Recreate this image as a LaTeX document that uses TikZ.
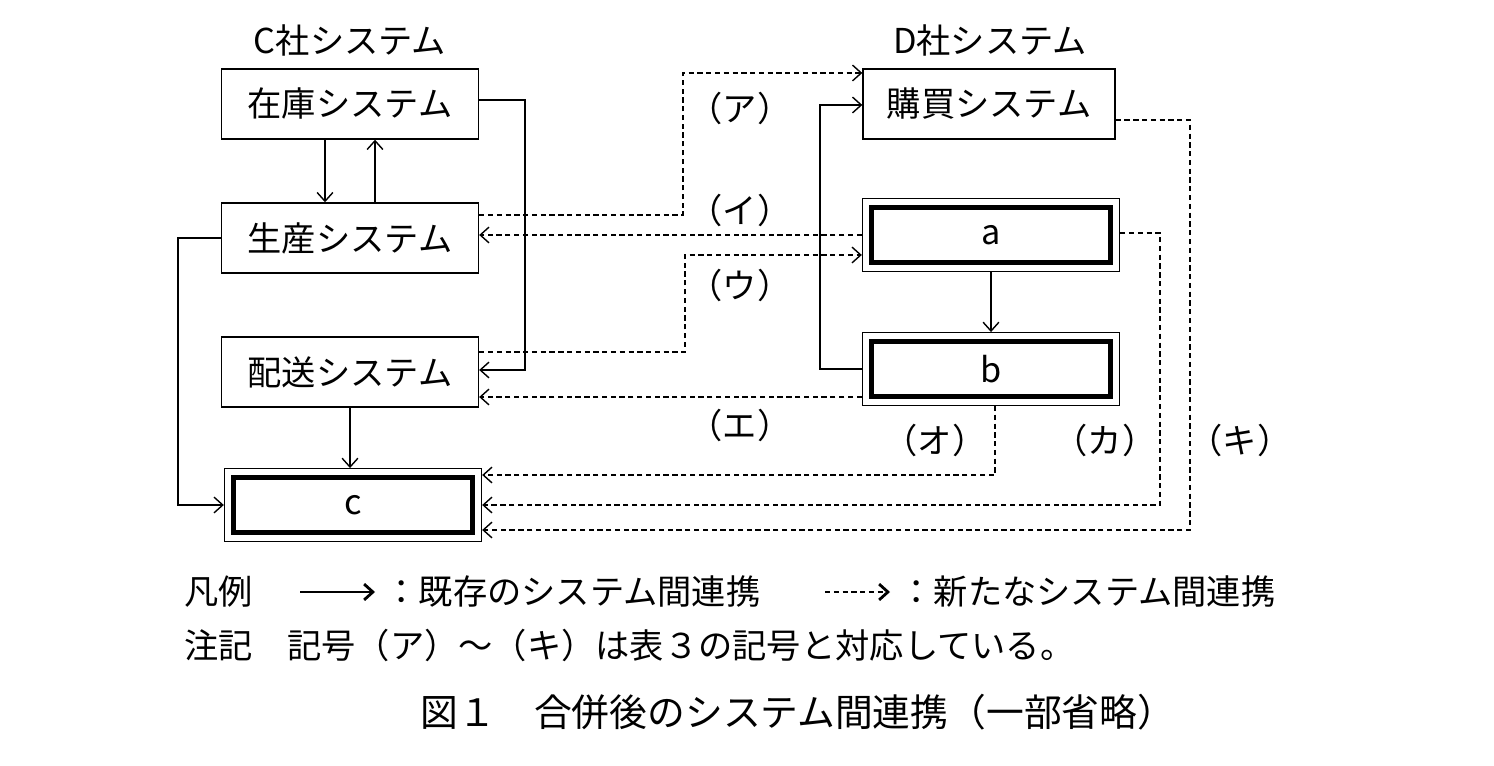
\documentclass[tikz,border=0pt]{standalone}
\usepackage{fontspec}
\setmainfont{Noto Sans CJK JP}
\usetikzlibrary{arrows.meta}

\begin{document}
\begin{tikzpicture}[x=0.02cm,y=-0.02cm,>={Straight Barb[length=5pt,width=9pt]},thick,
  font=\fontsize{19.5}{23}\selectfont,
  sys node/.style={draw,minimum width=5.14cm,minimum height=1.4cm},
  dbl node/.style={draw,minimum width=5.14cm,minimum height=1.45cm,
    path picture={\draw[line width=2.6pt] ([shift={(5pt,-5pt)}]path picture bounding box.north west)
      rectangle ([shift={(-5pt,5pt)}]path picture bounding box.south east);}},
  new link/.style={->,dash pattern=on 3pt off 2pt},
  old link/.style={->}]
  \useasboundingbox (0,0) rectangle (1494,766);
  \node at (350,40) {C社システム};
  \node at (990,40) {D社システム};
  \node[sys node] (zaiko) at (350,104) {在庫システム};
  \node[sys node] (seisan) at (350,238) {生産システム};
  \node[sys node] (haiso) at (350,372) {配送システム};
  \node[dbl node] (c) at (353,505) {c};
  \node[sys node,minimum width=5.04cm] (kobai) at (989,104) {購買システム};
  \node[dbl node] (a) at (991,235) {a};
  \node[dbl node] (b) at (991,369) {b};

  % existing links
  \draw[old link] (zaiko.south -| 325,0) -- (seisan.north -| 325,0);
  \draw[old link] (seisan.north -| 375,0) -- (zaiko.south -| 375,0);
  \draw[old link] (zaiko.east |- 0,100) -| (525,370) -- (haiso.east |- 0,370);
  \draw[old link] (seisan.west) -| (178,505) -- (c.west);
  \draw[old link] (haiso.south) -- (haiso.south |- c.north);
  \draw[old link] (a.south) -- (b.north);
  \draw[old link] (b.west) -| (820,105) -- (kobai.west |- 0,105);

  % new links
  \draw[new link] (seisan.east |- 0,215) -| (683,73) -- (kobai.west |- 0,73);
  \draw[new link] (a.west |- 0,235) -- (seisan.east |- 0,235);
  \draw[new link] (haiso.east |- 0,352) -| (685,255) -- (a.west |- 0,255);
  \draw[new link] (b.west |- 0,397) -- (haiso.east |- 0,397);
  \draw[new link] (b.south -| 995,0) -- (995,475) -- (c.east |- 0,475);
  \draw[new link] (a.east |- 0,233) -| (1160,505) -- (c.east |- 0,505);
  \draw[new link] (kobai.east |- 0,120) -| (1190,530) -- (c.east |- 0,530);

  \node at (740,108) {（ア）};
  \node at (740,210) {（イ）};
  \node at (740,285) {（ウ）};
  \node at (740,425) {（エ）};
  \node at (935,440) {（オ）};
  \node at (1105,440) {（カ）};
  \node at (1240,440) {（キ）};

  % legend
  \node[anchor=west] (hanrei) at (178,592) {凡例};
  \coordinate (o1) at (300,592);
  \coordinate (o2) at (375,592);
  \draw[old link,line width=1.6pt] (o1) -- (o2);
  \node[anchor=west] (kizon) at (378,592) {：既存のシステム間連携};
  \coordinate (n1) at (825,592);
  \coordinate (n2) at (890,592);
  \draw[new link,line width=1.6pt] (n1) -- (n2);
  \node[anchor=west] (arata) at (893,592) {：新たなシステム間連携};
  \node[anchor=west] (chuki) at (178,645) {注記\quad 記号（ア）～（キ）は表３の記号と対応している。};
  \node (title) at (798,712) {\fontsize{21.5}{25}\selectfont 図１\quad 合併後のシステム間連携（一部省略）};
\end{tikzpicture}
\end{document}
